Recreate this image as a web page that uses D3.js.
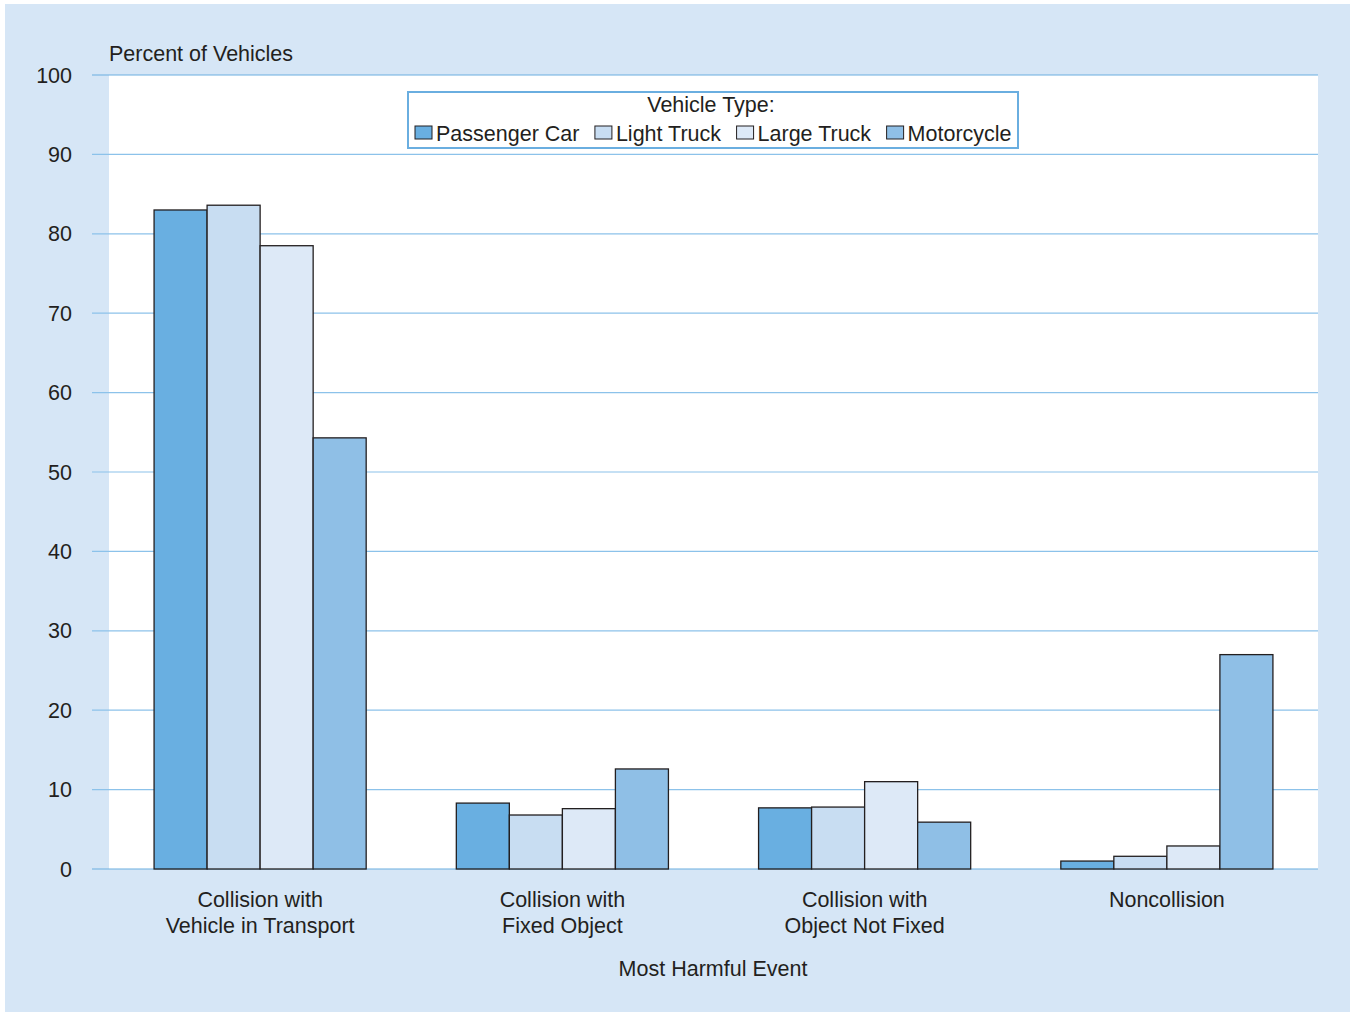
<!DOCTYPE html>
<html>
<head>
<meta charset="utf-8">
<script src="https://cdn.jsdelivr.net/npm/d3@7"></script>
<style>
body{margin:0;background:#fff}
text{font-family:"Liberation Sans",Arial,sans-serif;fill:#231f20}
</style>
</head>
<body>
<svg id="canvas" width="1351" height="1012"></svg>
<script>
let categories=[["Collision with","Vehicle in Transport"],["Collision with","Fixed Object"],["Collision with","Object Not Fixed"],["Noncollision"]]
let series=["Passenger Car","Light Truck","Large Truck","Motorcycle"]
let colors=["#69afe1","#c8ddf2","#dde9f7","#8fbfe6"]
let passengerCar=[83.0,8.3,7.7,1.0]
let lightTruck=[83.6,6.8,7.8,1.6]
let largeTruck=[78.5,7.6,11.0,2.9]
let motorcycle=[54.3,12.6,5.9,27.0]
let yTicks=[0,10,20,30,40,50,60,70,80,90,100]

let values=[passengerCar,lightTruck,largeTruck,motorcycle]
let canvas=d3.select("#canvas")
const fs=21.5

let margin={left:109,right:1318,top:75,bottom:869}

canvas.append("rect").attr("x",5).attr("y",4).attr("width",1345).attr("height",1008).attr("fill","#d6e6f6")
canvas.append("rect").attr("x",margin.left).attr("y",margin.top)
    .attr("width",margin.right-margin.left).attr("height",margin.bottom-margin.top).attr("fill","#fff")

const x0=d3.scaleBand().domain(d3.range(categories.length)).range([margin.left,margin.right])
const x1=d3.scaleBand().domain(d3.range(series.length)).range([0,x0.bandwidth()]).paddingOuter(0.85)
const y=d3.scaleLinear().domain([0,100]).range([margin.bottom,margin.top])

// grid + y labels
canvas.selectAll(".grid")
    .data(yTicks)
    .enter()
    .append("line")
    .attr("x1",92)
    .attr("x2",margin.right)
    .attr("y1",d=>y(d))
    .attr("y2",d=>y(d))
    .attr("stroke",d=>(d==0||d==100)?"#6aaee0":"#8cc2ea")
    .attr("stroke-width",1.2)
canvas.selectAll(".ylab")
    .data(yTicks)
    .enter()
    .append("text")
    .attr("x",72)
    .attr("y",d=>y(d)+7.5)
    .attr("text-anchor","end")
    .attr("font-size",fs)
    .text(d=>d)

canvas.append("text").attr("x",109).attr("y",61).attr("font-size",fs).text("Percent of Vehicles")

// bars
let groups=canvas.selectAll(".group")
    .data(categories)
    .enter()
    .append("g")
    .attr("transform",(d,i)=>"translate("+x0(i)+",0)")
groups.selectAll("rect")
    .data((d,i)=>values.map((s,j)=>({s:j,v:s[i]})))
    .enter()
    .append("rect")
    .attr("x",d=>x1(d.s))
    .attr("y",d=>y(d.v))
    .attr("width",x1.bandwidth())
    .attr("height",d=>y(0)-y(d.v))
    .attr("fill",d=>colors[d.s])
    .attr("stroke","#231f20")
    .attr("stroke-width",1.3)

// x labels
groups.each(function(d,i){
    let t=d3.select(this).append("text")
        .attr("x",x0.bandwidth()/2)
        .attr("y",907)
        .attr("text-anchor","middle")
        .attr("font-size",fs)
    d.forEach((line,k)=>{
        t.append("tspan").attr("x",x0.bandwidth()/2).attr("dy",k==0?0:26).text(line)
    })
})
canvas.append("text").attr("x",713).attr("y",976).attr("text-anchor","middle").attr("font-size",fs).text("Most Harmful Event")

// legend
let legend=canvas.append("g")
legend.append("rect").attr("x",408).attr("y",92).attr("width",610).attr("height",56)
    .attr("fill","#fff").attr("stroke","#6aaee0").attr("stroke-width",2)
legend.append("text").attr("x",711).attr("y",112).attr("text-anchor","middle").attr("font-size",fs).text("Vehicle Type:")
let lx=415
series.forEach((s,i)=>{
    legend.append("rect").attr("x",lx).attr("y",126).attr("width",17).attr("height",13)
        .attr("fill",colors[i]).attr("stroke","#231f20").attr("stroke-width",1)
    let t=legend.append("text").attr("x",lx+21).attr("y",141).attr("font-size",fs).text(s)
    lx+=21+t.node().getComputedTextLength()+15.5
})
</script>
</body>
</html>
